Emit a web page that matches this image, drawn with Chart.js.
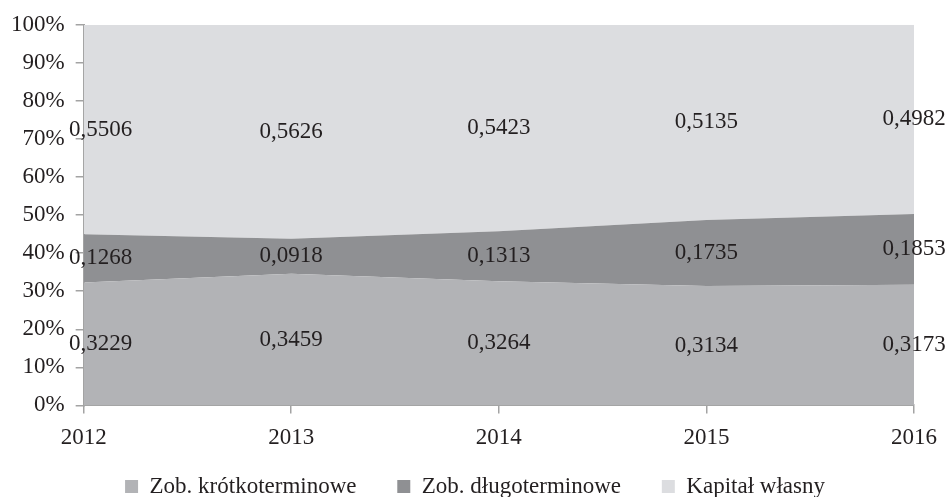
<!DOCTYPE html>
<html>
<head>
<meta charset="utf-8">
<script src="https://cdn.jsdelivr.net/npm/chart.js@4"></script>
<style>
  html, body { margin: 0; padding: 0; background: #fff; }
  #wrap { width: 950px; height: 497px; }
</style>
</head>
<body>
<div id="wrap"><canvas id="chart"></canvas></div>
<script>
const years = ['2012', '2013', '2014', '2015', '2016'];
const shortTerm = [0.3229, 0.3459, 0.3264, 0.3134, 0.3173];
const longTerm = [0.1268, 0.0918, 0.1313, 0.1735, 0.1853];
const equity = [0.5506, 0.5626, 0.5423, 0.5135, 0.4982];
const seriesNames = ['Zob. krótkoterminowe', 'Zob. długoterminowe', 'Kapitał własny'];

const FONT = "'Liberation Serif', 'Times New Roman', serif";
const axisGray = '#a3a3a3';

// value labels in the middle of each band
const bandLabels = {
    id: 'bandLabels',
    afterDatasetsDraw(chart) {
        const ctx = chart.ctx;
        const yScale = chart.scales.y;
        ctx.save();
        ctx.font = '23px ' + FONT;
        ctx.fillStyle = '#231f20';
        ctx.textAlign = 'center';
        ctx.textBaseline = 'middle';
        chart.data.datasets.forEach((ds, di) => {
            const meta = chart.getDatasetMeta(di);
            meta.data.forEach((pt, i) => {
                let base = yScale.getPixelForValue(0);
                if (di > 0) base = chart.getDatasetMeta(di - 1).data[i].y;
                const txt = ds.data[i].toFixed(4).replace('.', ',');
                let x = pt.x;
                if (i === 0) x += 17;
                ctx.fillText(txt, x, (pt.y + base) / 2);
            });
        });
        ctx.restore();
    }
};

function area(label, data, color, fill) {
    return {
        label: label,
        data: data,
        backgroundColor: color,
        borderColor: color,
        borderWidth: 0,
        pointRadius: 0,
        fill: fill,
        tension: 0
    };
}

// wider gaps between legend entries
const gap = '\u00a0'.repeat(5);

new Chart(document.getElementById('chart'), {
    type: 'line',
    data: {
        labels: years,
        datasets: [
            area(seriesNames[0], shortTerm, '#b2b3b6', 'origin'),
            area(seriesNames[1], longTerm, '#8f9093', '-1'),
            area(seriesNames[2], equity, '#dcdde0', '-1')
        ]
    },
    options: {
        responsive: true,
        maintainAspectRatio: false,
        animation: false,
        layout: { padding: { left: 0, right: 0, top: 2, bottom: -11 } },
        scales: {
            x: {
                offset: false,
                afterFit: s => { s.paddingRight = 36; },
                grid: { display: true, drawOnChartArea: false, tickLength: 8, color: axisGray, lineWidth: 1.5 },
                border: { color: axisGray, width: 2 },
                ticks: { color: '#231f20', font: { family: FONT, size: 23 }, padding: 11, maxRotation: 0 }
            },
            y: {
                stacked: true,
                min: 0,
                max: 1,
                grid: { display: true, drawOnChartArea: false, tickLength: 8, color: axisGray, lineWidth: 1.5 },
                border: { color: axisGray, width: 2 },
                ticks: {
                    stepSize: 0.1,
                    color: '#231f20',
                    font: { family: FONT, size: 23 },
                    padding: 11,
                    callback: v => Math.round(v * 100) + '%'
                }
            }
        },
        plugins: {
            legend: {
                position: 'bottom',
                labels: {
                    color: '#231f20',
                    font: { family: FONT, size: 23 },
                    boxWidth: 13,
                    boxHeight: 13,
                    padding: 12,
                    generateLabels: chart => Chart.defaults.plugins.legend.labels.generateLabels(chart)
                        .map((l, i) => Object.assign(l, { text: i < 2 ? l.text + gap : l.text }))
                }
            },
            tooltip: { enabled: false }
        }
    },
    plugins: [bandLabels]
});
</script>
</body>
</html>
